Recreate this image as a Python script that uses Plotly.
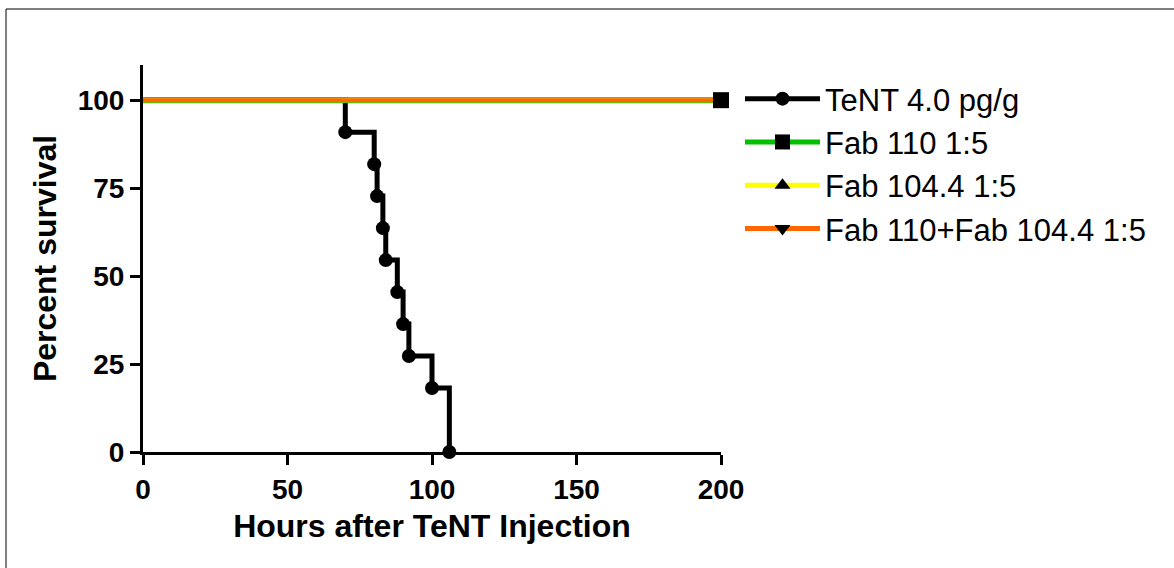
import plotly.graph_objects as go

# ---- data ----
tent_hours = [0, 70, 80, 81, 83, 84, 88, 90, 92, 100, 106]
tent_survival = [100, 90.91, 81.82, 72.73, 63.64, 54.55, 45.45, 36.36, 27.27, 18.18, 0]

fab_hours = [0, 200]
fab110_survival = [100, 100]
fab1044_survival = [100, 100]
fabcombo_survival = [100, 100]

series_names = ["TeNT 4.0 pg/g", "Fab 110 1:5", "Fab 104.4 1:5", "Fab 110+Fab 104.4 1:5"]
x_ticks = [0, 50, 100, 150, 200]
y_ticks = [0, 25, 50, 75, 100]
x_title = "Hours after TeNT Injection"
y_title = "Percent survival"

# ---- layout geometry (pixels) ----
W, H = 1174, 568
L, R_EDGE, T, B_EDGE = 143, 721, 65, 452
PW, PH = R_EDGE - L, B_EDGE - T

def px_x(px):
    return (px - L) / PW

def px_y(py):
    return (B_EDGE - py) / PH

FONT = "Liberation Sans, Arial, sans-serif"
GREEN, YELLOW, ORANGE, BLACK = "#00c000", "#ffff00", "#ff6600", "#000000"

fig = go.Figure()

# TeNT step curve
fig.add_trace(go.Scatter(x=tent_hours, y=tent_survival, mode="lines",
                         line=dict(color=BLACK, width=5, shape="hv"),
                         showlegend=False, cliponaxis=False, hoverinfo="skip"))
fig.add_trace(go.Scatter(x=tent_hours[1:], y=tent_survival[1:], mode="markers",
                         marker=dict(symbol="circle", size=14, color=BLACK),
                         showlegend=False, cliponaxis=False))

# Fab lines (green under, orange on top)
fig.add_trace(go.Scatter(x=fab_hours, y=fab110_survival, mode="lines",
                         line=dict(color=GREEN, width=6), showlegend=False, cliponaxis=False))
fig.add_trace(go.Scatter(x=fab_hours, y=fab1044_survival, mode="lines",
                         line=dict(color=YELLOW, width=4), showlegend=False, cliponaxis=False))
fig.add_trace(go.Scatter(x=fab_hours, y=fabcombo_survival, mode="lines",
                         line=dict(color=ORANGE, width=4), showlegend=False, cliponaxis=False))
# end markers
fig.add_trace(go.Scatter(x=fab_hours[-1:], y=fabcombo_survival[-1:], mode="markers",
                         marker=dict(symbol="triangle-down", size=13, color=BLACK),
                         showlegend=False, cliponaxis=False))
fig.add_trace(go.Scatter(x=fab_hours[-1:], y=fab1044_survival[-1:], mode="markers",
                         marker=dict(symbol="triangle-up", size=13, color=BLACK),
                         showlegend=False, cliponaxis=False))
fig.add_trace(go.Scatter(x=fab_hours[-1:], y=fab110_survival[-1:], mode="markers",
                         marker=dict(symbol="square", size=16, color=BLACK),
                         showlegend=False, cliponaxis=False))

# legend entries
legend_styles = [
    (BLACK, "circle", 14),
    (GREEN, "square", 15),
    (YELLOW, "triangle-up", 14),
    (ORANGE, "triangle-down", 14),
]
for name, (col, sym, sz) in zip(series_names, legend_styles):
    fig.add_trace(go.Scatter(x=[None], y=[None], mode="lines+markers", name=name,
                             line=dict(color=col, width=5),
                             marker=dict(symbol=sym, size=sz, color=BLACK)))

axis_common = dict(showline=True, linecolor=BLACK, linewidth=3, ticks="outside",
                   ticklen=10, tickwidth=3, tickcolor=BLACK, showgrid=False, zeroline=False,
                   tickfont=dict(family=FONT, size=28, color=BLACK, weight="bold"))

fig.update_layout(
    width=W, height=H,
    margin=dict(l=L, r=W - R_EDGE, t=T, b=H - B_EDGE, autoexpand=False),
    paper_bgcolor="white", plot_bgcolor="white",
    xaxis=dict(range=[0, 200], tickvals=x_ticks, **axis_common,
               title=dict(text=x_title, standoff=12,
                          font=dict(family=FONT, size=32, color=BLACK, weight="bold"))),
    yaxis=dict(range=[0, 110], tickvals=y_ticks, **axis_common,
               title=dict(text=y_title, standoff=12,
                          font=dict(family=FONT, size=32, color=BLACK, weight="bold"))),
    legend=dict(x=px_x(740), y=px_y(72), xanchor="left", yanchor="top",
                font=dict(family=FONT, size=31, color=BLACK),
                itemwidth=75, bgcolor="rgba(0,0,0,0)", borderwidth=0, tracegroupgap=0),
    shapes=[dict(type="rect", xref="paper", yref="paper",
                 x0=px_x(6), x1=px_x(1185), y0=px_y(580), y1=px_y(9),
                 line=dict(color=BLACK, width=1), layer="below")],
    showlegend=True,
)

fig.write_html("out.html")
